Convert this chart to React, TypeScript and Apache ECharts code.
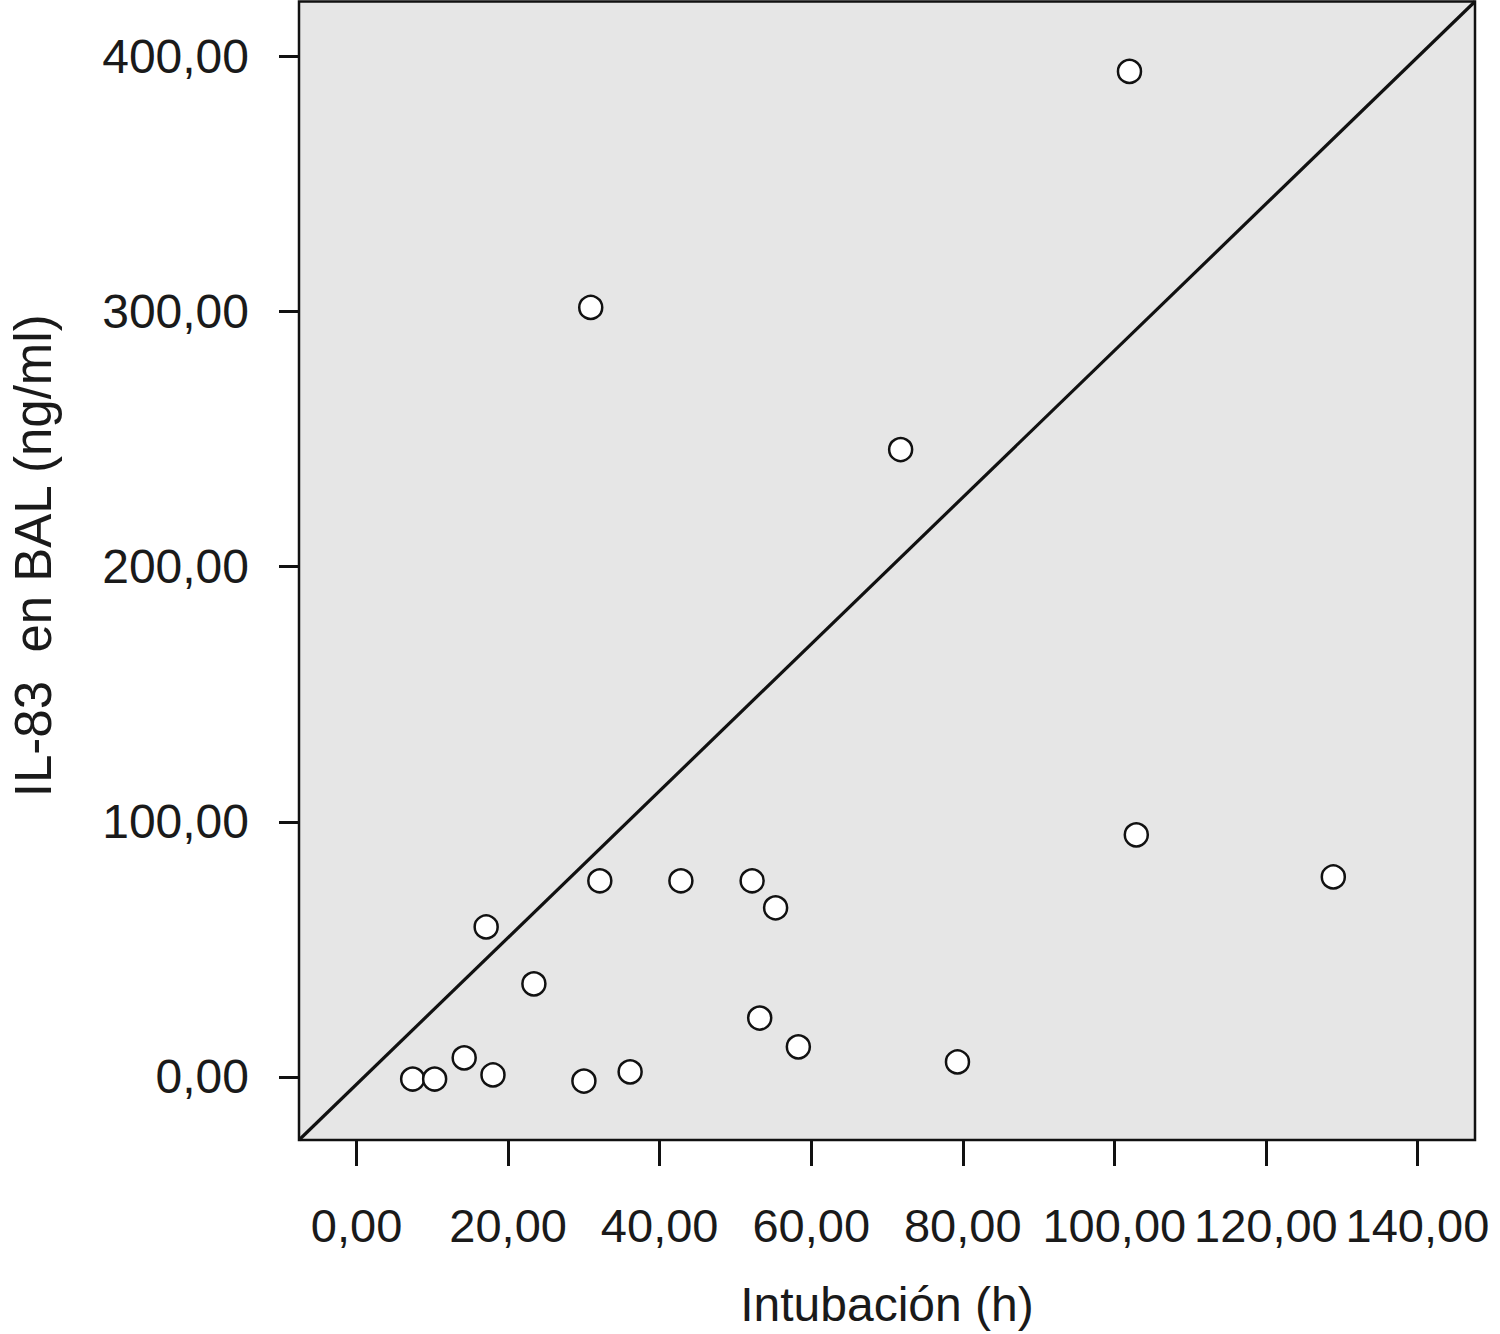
import React, { useEffect, useRef } from "react";
import * as echarts from "echarts";

const intubationHours = [102.0, 30.9, 71.8, 102.9, 128.9, 32.1, 42.8, 52.2, 55.3, 17.1, 23.4, 53.2, 58.3, 79.3, 14.2, 7.4, 10.3, 18.0, 30.0, 36.1];
const il83Values = [394.1, 301.6, 245.9, 94.9, 78.4, 76.9, 76.9, 76.9, 66.3, 58.8, 36.5, 23.1, 11.8, 5.9, 7.5, -0.8, -0.8, 0.8, -1.6, 2.0];
const xTicks = [0, 20, 40, 60, 80, 100, 120, 140];
const yTicks = [0, 100, 200, 300, 400];
const xMin = -7.6;
const xMax = 147.6;
const yMin = -24.7;
const yMax = 421.5;

const fmt = (v: number) => v.toFixed(2).replace(".", ",");
const FONT = "'Liberation Sans', Arial, Helvetica, sans-serif";

export default function App() {
  const ref = useRef<HTMLDivElement>(null);
  useEffect(() => {
    if (!ref.current) return;
    const chart = echarts.init(ref.current, null, { renderer: "svg" });
    const points = intubationHours.map((x, i) => [x, il83Values[i]]);
    chart.setOption({
      animation: false,
      backgroundColor: "#ffffff",
      grid: {
        left: 294.5,
        right: 25,
        top: 1.5,
        bottom: 194,
        show: true,
        backgroundColor: "#e6e6e6",
        borderColor: "#111111",
        borderWidth: 2.5,
      },
      xAxis: {
        type: "value",
        min: xMin,
        max: xMax,
        splitLine: { show: false },
        axisLine: { show: false, onZero: false },
        axisTick: {
          show: true,
          inside: false,
          length: 26,
          customValues: xTicks,
          lineStyle: { color: "#111111", width: 3 },
        },
        axisLabel: {
          customValues: xTicks,
          formatter: (v: number) => fmt(v),
          fontFamily: FONT,
          fontSize: 47,
          color: "#1a1a1a",
          margin: 62,
          showMinLabel: true,
          showMaxLabel: true,
        },
        name: "Intubación (h)",
        nameLocation: "middle",
        nameGap: 140,
        nameTextStyle: { fontFamily: FONT, fontSize: 48, color: "#1a1a1a" },
      },
      yAxis: {
        type: "value",
        min: yMin,
        max: yMax,
        splitLine: { show: false },
        axisLine: { show: false, onZero: false },
        axisTick: {
          show: true,
          inside: false,
          length: 20,
          customValues: yTicks,
          lineStyle: { color: "#111111", width: 3 },
        },
        axisLabel: {
          customValues: yTicks,
          formatter: (v: number) => fmt(v),
          fontFamily: FONT,
          fontSize: 48,
          color: "#1a1a1a",
          margin: 50,
        },
        name: "IL-83  en BAL (ng/ml)",
        nameLocation: "middle",
        nameGap: 240,
        nameTextStyle: { fontFamily: FONT, fontSize: 51, color: "#1a1a1a", padding: [0, 0, 0, 30] },
      },
      series: [
        {
          type: "line",
          data: [
            [xMin, yMin],
            [xMax, yMax],
          ],
          symbol: "none",
          silent: true,
          lineStyle: { color: "#111111", width: 3.2 },
          z: 2,
        },
        {
          type: "scatter",
          data: points,
          symbol: "circle",
          symbolSize: 23,
          itemStyle: { color: "#ffffff", borderColor: "#111111", borderWidth: 2.5, opacity: 1 },
          z: 3,
        },
      ],
    });
    return () => chart.dispose();
  }, []);
  return (
    <div
      ref={ref}
      style={{ position: "absolute", left: 0, top: 0, width: 1500, height: 1334 }}
    />
  );
}
